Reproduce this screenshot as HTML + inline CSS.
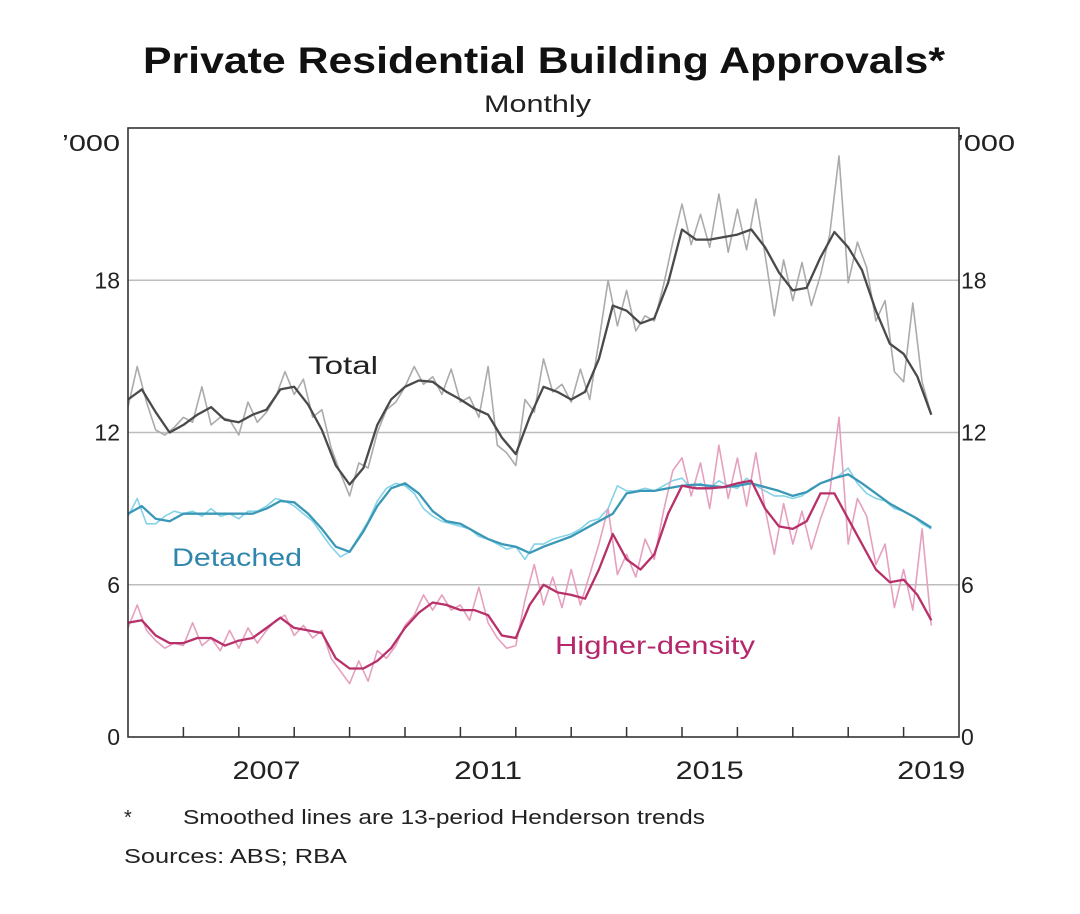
<!DOCTYPE html>
<html><head><meta charset="utf-8"><style>
body{margin:0;background:#fff;width:1080px;height:909px;overflow:hidden;font-family:"Liberation Sans",Arial,sans-serif}
</style></head><body>
<svg id="chart" width="1080" height="909" xmlns="http://www.w3.org/2000/svg" font-family="Liberation Sans, Arial, sans-serif">
<text x="143" y="73" font-size="37" font-weight="bold" fill="#111" textLength="802" lengthAdjust="spacingAndGlyphs">Private Residential Building Approvals*</text>
<text x="484" y="112" font-size="24" fill="#222" textLength="107" lengthAdjust="spacingAndGlyphs">Monthly</text>
<text x="62" y="151" font-size="23" fill="#222" textLength="58" lengthAdjust="spacingAndGlyphs">’000</text>
<text x="957" y="151" font-size="23" fill="#222" textLength="58" lengthAdjust="spacingAndGlyphs">’000</text>
<g id="grid"></g><g id="series"></g><g id="axes"></g>
<text x="308" y="374" font-size="25" fill="#222" textLength="70" lengthAdjust="spacingAndGlyphs">Total</text>
<text x="172" y="566" font-size="25" fill="#2f86ad" textLength="130" lengthAdjust="spacingAndGlyphs">Detached</text>
<text x="555" y="654" font-size="25" fill="#b5276a" textLength="200" lengthAdjust="spacingAndGlyphs">Higher-density</text>
<text x="124" y="824" font-size="20" fill="#222">*</text>
<text x="183" y="824" font-size="20" fill="#222" textLength="522" lengthAdjust="spacingAndGlyphs">Smoothed lines are 13-period Henderson trends</text>
<text x="124" y="863" font-size="20" fill="#222" textLength="223" lengthAdjust="spacingAndGlyphs">Sources:   ABS; RBA</text>
</svg>
<script>
const yTicks=[0,6,12,18];
const yearLabels=[2007,2011,2015,2019];
const trendStart=2005, trendStep=0.25;
const totalTrend=[13.3,13.7,12.8,12.0,12.3,12.7,13.0,12.5,12.4,12.7,12.9,13.7,13.8,13.1,12.1,10.7,9.95,10.6,12.3,13.3,13.8,14.05,14.0,13.6,13.3,12.95,12.7,11.8,11.15,12.6,13.8,13.6,13.3,13.6,14.9,17.0,16.8,16.3,16.5,17.9,20.0,19.6,19.6,19.7,19.8,20.0,19.3,18.3,17.6,17.7,18.9,19.9,19.3,18.4,16.8,15.5,15.1,14.2,12.7];
const detachedTrend=[8.8,9.1,8.6,8.5,8.8,8.8,8.8,8.8,8.8,8.8,9.0,9.3,9.25,8.8,8.2,7.5,7.3,8.1,9.1,9.8,10.0,9.6,8.9,8.5,8.4,8.1,7.8,7.6,7.5,7.25,7.5,7.7,7.9,8.2,8.5,8.8,9.6,9.7,9.7,9.8,9.9,9.95,9.9,9.85,9.9,10.0,9.85,9.7,9.5,9.65,10.0,10.2,10.35,10.0,9.6,9.2,8.9,8.6,8.25];
const densityTrend=[4.5,4.6,4.0,3.7,3.7,3.9,3.9,3.6,3.8,3.9,4.3,4.7,4.3,4.2,4.1,3.1,2.7,2.7,3.0,3.5,4.3,4.9,5.3,5.2,5.0,5.0,4.8,4.0,3.9,5.2,6.0,5.7,5.6,5.45,6.6,8.0,7.0,6.6,7.2,8.8,9.9,9.8,9.8,9.85,10.0,10.1,9.0,8.3,8.2,8.5,9.6,9.6,8.6,7.6,6.6,6.1,6.2,5.6,4.6];
const rawStep=1/6;
const totalRaw=[13.0,14.6,13.2,12.1,11.9,12.2,12.6,12.4,13.8,12.3,12.6,12.5,11.9,13.2,12.4,12.8,13.4,14.4,13.5,14.1,12.6,12.9,11.4,10.4,9.5,10.8,10.6,12.0,12.9,13.2,13.8,14.6,13.9,14.2,13.5,14.5,13.2,13.4,12.6,14.6,11.5,11.2,10.7,13.3,12.8,14.9,13.6,13.9,13.2,14.5,13.3,15.6,18.0,16.2,17.6,16.0,16.6,16.4,17.8,19.5,21.0,19.4,20.6,19.3,21.4,19.1,20.8,19.2,21.2,19.0,16.6,18.8,17.2,18.7,17.0,18.2,19.8,22.9,17.9,19.5,18.5,16.4,17.2,14.4,14.0,17.1,14.0,12.7];
const detachedRaw=[8.7,9.4,8.4,8.4,8.7,8.9,8.8,8.9,8.7,9.0,8.7,8.8,8.6,8.9,8.9,9.1,9.4,9.3,9.1,8.8,8.5,8.0,7.5,7.1,7.3,7.9,8.5,9.3,9.8,10.0,9.9,9.6,9.0,8.7,8.5,8.4,8.3,8.2,7.9,7.8,7.6,7.4,7.5,7.0,7.6,7.6,7.8,7.9,8.0,8.2,8.5,8.6,9.0,9.9,9.7,9.7,9.8,9.7,9.9,10.1,10.2,9.8,10.0,9.8,10.1,9.9,9.8,10.2,9.9,9.7,9.5,9.5,9.4,9.5,9.8,10.0,10.1,10.3,10.6,10.0,9.6,9.4,9.3,9.0,8.9,8.7,8.4,8.2];
const densityRaw=[4.3,5.2,4.2,3.8,3.5,3.7,3.6,4.5,3.6,3.9,3.4,4.2,3.5,4.3,3.7,4.2,4.6,4.8,4.0,4.4,3.9,4.2,3.1,2.6,2.1,3.0,2.2,3.4,3.1,3.6,4.4,4.8,5.6,5.0,5.6,5.0,5.2,4.6,5.9,4.5,3.9,3.5,3.6,5.4,6.8,5.2,6.3,5.1,6.6,5.2,6.4,7.6,9.0,6.4,7.2,6.3,7.8,7.0,8.9,10.5,11.0,9.5,10.8,9.0,11.5,9.4,11.0,9.1,11.2,9.0,7.2,9.2,7.6,8.9,7.4,8.6,9.6,12.6,7.6,9.4,8.7,6.8,7.6,5.1,6.6,5.0,8.2,4.4];

const L=128,R=959,T=128,B=737,X0=2005,X1=2020,YMAX=24;
const xs=t=>L+(t-X0)/(X1-X0)*(R-L);
const ys=v=>B-v/YMAX*(B-T);
const NS='http://www.w3.org/2000/svg';
function mk(tag,parent,attrs){const e=document.createElementNS(NS,tag);for(const k in attrs)e.setAttribute(k,attrs[k]);parent.appendChild(e);return e;}
const grid=document.getElementById('grid'),axes=document.getElementById('axes'),ser=document.getElementById('series');
yTicks.forEach(v=>{
  if(v>0){const g=mk('line',grid,{x1:L,x2:R,y1:ys(v),y2:ys(v),stroke:'#bdbdbd','stroke-width':1.5});
  
  }
  const a=mk('text',axes,{x:L-8,y:ys(v)+8,'text-anchor':'end','font-size':23,fill:'#222'});a.textContent=v;
  
  
  const b=mk('text',axes,{x:R+2,y:ys(v)+8,'font-size':23,fill:'#222'});b.textContent=v;
  
  
});
for(let yr=X0+1;yr<X1;yr++){const t=mk('line',axes,{x1:xs(yr),x2:xs(yr),y1:B,y2:B-10,stroke:'#333','stroke-width':1.5});
  
  }
yearLabels.forEach(yr=>{const t=mk('text',axes,{x:xs(yr+0.5)-34,y:B+42,'font-size':25,fill:'#222',textLength:68,lengthAdjust:'spacingAndGlyphs'});t.textContent=yr;
  
  });
const fr=mk('rect',axes,{x:L,y:T,width:R-L,height:B-T,fill:'none',stroke:'#333','stroke-width':1.6});


function line(vals,start,step,color,w,name){
  const d=vals.map((v,i)=>(i?'L':'M')+xs(start+i*step).toFixed(1)+','+ys(v).toFixed(1)).join('');
  const p=mk('path',ser,{d:d,fill:'none',stroke:color,'stroke-width':w,'stroke-linejoin':'round'});
  
  
}
line(totalRaw,X0,rawStep,'#ababab',1.6,'total-raw-line');
line(detachedRaw,X0,rawStep,'#86d3e8',1.6,'detached-raw-line');
line(densityRaw,X0,rawStep,'#e6a0bf',1.6,'higher-density-raw-line');
line(totalTrend,trendStart,trendStep,'#4a4a4a',2.3,'total-trend-line');
line(detachedTrend,trendStart,trendStep,'#3a98b6',2.3,'detached-trend-line');
line(densityTrend,trendStart,trendStep,'#b8306a',2.3,'higher-density-trend-line');
</script>
</body></html>
